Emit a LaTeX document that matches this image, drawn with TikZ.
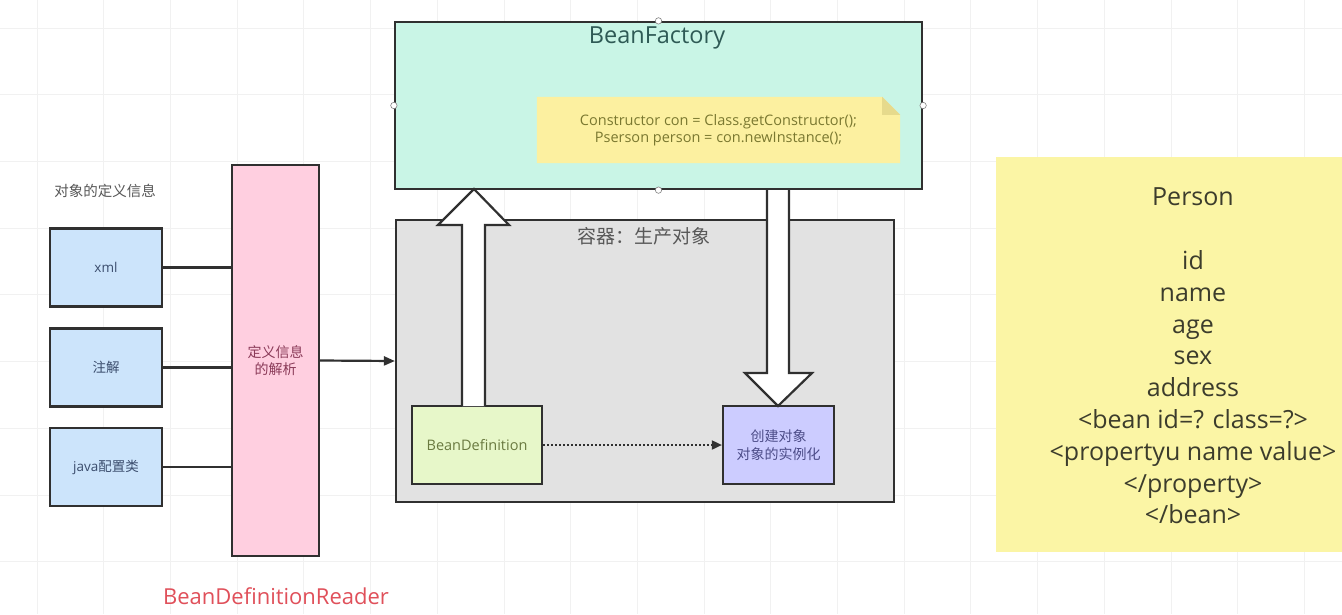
\documentclass[tikz,border=0pt]{standalone}
\usepackage{fontspec}
\setmainfont{Open Sans}
\newfontfamily\cjk{Noto Sans CJK SC}
\newcommand\zh[1]{{\cjk #1}}
\usetikzlibrary{arrows.meta,calc}
\definecolor{gridc}{HTML}{F1F1F1}
\definecolor{edgec}{HTML}{303030}
\definecolor{bluef}{HTML}{CCE4FB}
\definecolor{pinkf}{HTML}{FFCFE0}
\definecolor{tealf}{HTML}{C9F5E6}
\definecolor{notef}{HTML}{FCF0A0}
\definecolor{foldf}{HTML}{E6DA8C}
\definecolor{greyf}{HTML}{E2E2E2}
\definecolor{greenf}{HTML}{E7F7C9}
\definecolor{lavf}{HTML}{CCCCFF}
\definecolor{persf}{HTML}{FBF5A5}
\definecolor{redt}{HTML}{E0505A}
\definecolor{bluet}{HTML}{3A4C6C}
\definecolor{pinkt}{HTML}{8A3A58}
\definecolor{tealt}{HTML}{2E5A55}
\definecolor{notet}{HTML}{7A7830}
\definecolor{greyt}{HTML}{585858}
\definecolor{greent}{HTML}{6A7A40}
\definecolor{lavt}{HTML}{4C4C88}
\definecolor{perst}{HTML}{3C3C2C}
\tikzset{
  box/.style={draw=edgec, line width=2.2pt, inner sep=0pt, align=center},
  srcbox/.style={box, fill=bluef, minimum width=112pt, minimum height=78pt, text=bluet, font=\fontsize{13.5}{16}\selectfont},
  link/.style={draw=edgec, line width=2.2pt},
  blockarrow/.style={draw=edgec, line width=2.2pt, fill=white, line join=miter},
  handle/.style={draw=gray, fill=white, line width=0.6pt},
}
\begin{document}
\begin{tikzpicture}[x=1pt,y=-1pt]
\useasboundingbox (0,0) rectangle (1342,614);
\fill[white] (0,0) rectangle (1342,614);
% faint grid
\foreach \gx in {37,103.7,...,1342} \draw[gridc, line width=0.8pt] (\gx,0) -- (\gx,614);
\foreach \gy in {28,94.7,...,614} \draw[gridc, line width=0.8pt] (0,\gy) -- (1342,\gy);

% left side
\node[text=greyt, font=\cjk\fontsize{14.5}{17}\selectfont] (deflabel) at (105,191) {对象的定义信息};
\node[srcbox] (xml) at (106,267.5) {xml};
\node[srcbox] (anno) at (106,367.5) {\zh{注解}};
\node[srcbox] (javacfg) at (106,467) {java\zh{配置类}};
\node[box, fill=pinkf, minimum width=87pt, minimum height=391pt, text=pinkt, font=\cjk\fontsize{14}{17}\selectfont] (reader) at (275.5,360.5) {定义信息\\的解析};
\node[text=redt, font=\fontsize{22}{26}\selectfont] (readerlabel) at (276,596) {BeanDefinitionReader};

% BeanFactory
\node[box, fill=tealf, minimum width=527pt, minimum height=167pt] (bf) at (658.5,105.5) {};
\node[text=tealt, font=\fontsize{23.5}{28}\selectfont] (bftitle) at (657,38) {BeanFactory};
% note with folded corner
\node[minimum width=363pt, minimum height=66pt, inner sep=0pt] (note) at (718.5,130) {};
\fill[notef] (note.north west) -- ($(note.north east)+(-18,0)$) -- ($(note.north east)+(0,18)$) -- (note.south east) -- (note.south west) -- cycle;
\fill[foldf] ($(note.north east)+(-18,0)$) -- ($(note.north east)+(0,18)$) -- ($(note.north east)+(-18,18)$) -- cycle;
\node[align=center, text=notet, font=\fontsize{14.5}{17}\selectfont] (notetext) at (note.center) {Constructor con = Class.getConstructor();\\Pserson person = con.newInstance();};
\foreach \a in {north,east,west} \draw[handle] (bf.\a) circle (3.2pt);

% container
\node[box, fill=greyf, minimum width=498pt, minimum height=282pt] (cont) at (645,361) {};
\node[text=greyt, font=\cjk\fontsize{19}{22}\selectfont] (conttitle) at (644,236) {容器：生产对象};
\node[box, fill=greenf, minimum width=130pt, minimum height=78pt, text=greent, font=\fontsize{14.5}{17}\selectfont] (bd) at (477,445) {BeanDefinition};
\node[box, fill=lavf, minimum width=111pt, minimum height=78pt, text=lavt, font=\cjk\fontsize{14}{18}\selectfont] (create) at (778.5,445) {创建对象\\对象的实例化};

% block arrows
\coordinate (uptip) at (474,189);
\coordinate (downtip) at (778,406);
\draw[blockarrow] (462,406) -- (462,225) -- (438,225) -- (uptip) -- (509,225) -- (485,225) -- (485,406);
\draw[blockarrow] (767,190) -- (767,373) -- (745,373) -- (downtip) -- (812,373) -- (789,373) -- (789,190);
\draw[handle] (bf.south) circle (3.2pt);

% connectors
\draw[link] (xml.east) -- (xml.east -| reader.west);
\draw[link] (anno.east) -- (anno.east -| reader.west);
\draw[link] (javacfg.east) -- (javacfg.east -| reader.west);
\draw[link, -{Triangle[length=11pt,width=9pt]}] (reader.east) -- (cont.west);
\draw[draw=edgec, line width=1.8pt, dash pattern=on 2pt off 2pt, -{Triangle[length=10pt,width=9pt]}] (bd.east) -- (create.west);

% Person
\node[fill=persf, minimum width=396pt, minimum height=395pt, inner sep=0pt] (person) at (1194,354.5) {};
\node[align=center, text=perst, font=\fontsize{25}{31.8}\selectfont] (persontext) at (1193,356) {Person\\ \\id\\name\\age\\sex\\address\\<bean id=? class=?>\\<propertyu name value>\\</property>\\</bean>};
\end{tikzpicture}
\end{document}
